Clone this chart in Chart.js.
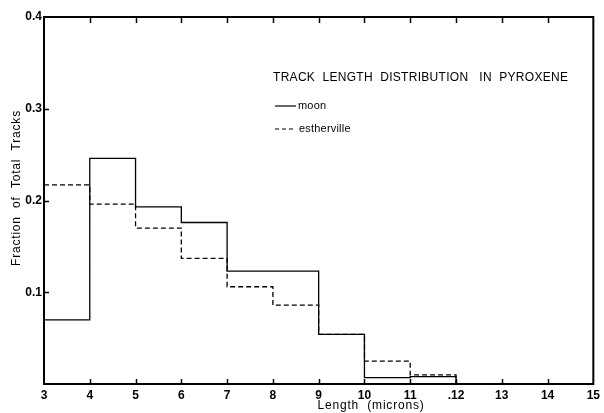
<!DOCTYPE html>
<html>
<head>
<meta charset="utf-8">
<script src="https://cdn.jsdelivr.net/npm/chart.js@4/dist/chart.umd.min.js"></script>
<style>
  html, body { margin: 0; padding: 0; background: #fff; }
  #wrap { width: 604px; height: 413px; }
</style>
</head>
<body>
<div id="wrap"><canvas id="trackChart"></canvas></div>
<script>
// left edge of each bin (microns)
const binEdges = [3, 4, 5, 6, 7, 8, 9, 10, 11];
const binEnd = 12;
// fraction of total tracks in each bin
const moon = [0.070, 0.246, 0.193, 0.176, 0.123, 0.123, 0.054, 0.007, 0.008];
const estherville = [0.217, 0.196, 0.170, 0.137, 0.106, 0.086, 0.054, 0.025, 0.010];
const xTicks = [3, 4, 5, 6, 7, 8, 9, 10, 11, 12, 13, 14, 15];
const yTicks = [0.1, 0.2, 0.3, 0.4];

const FONT = "'Liberation Sans', Arial, sans-serif";

function toSteps(values) {
  const pts = binEdges.map((x, i) => ({ x: x, y: values[i] }));
  pts.push({ x: binEnd, y: 0 });
  pts.push({ x: 15, y: 0 });
  return pts;
}

function spaced(c, px) {
  if ("letterSpacing" in c) c.letterSpacing = px + "px";
}

// frame, inward ticks, axis titles, title and legend
const decorations = {
  id: "decorations",
  afterDraw(chart) {
    const c = chart.ctx;
    const a = chart.chartArea;
    const xs = chart.scales.x;
    const ys = chart.scales.y;
    c.save();
    c.strokeStyle = "#000";
    c.lineWidth = 2;
    c.strokeRect(a.left, a.top, a.right - a.left, a.bottom - a.top);

    c.lineWidth = 1.5;
    c.beginPath();
    xTicks.slice(1, -1).forEach((v) => {
      const px = Math.round(xs.getPixelForValue(v)) + 0.5;
      c.moveTo(px, a.top);
      c.lineTo(px, a.top + 6);
      c.moveTo(px, a.bottom);
      c.lineTo(px, a.bottom - 5);
    });
    yTicks.slice(0, -1).forEach((v) => {
      const py = Math.round(ys.getPixelForValue(v)) + 0.5;
      c.moveTo(a.left, py);
      c.lineTo(a.left + 5, py);
    });
    c.stroke();

    c.fillStyle = "#000";
    c.textBaseline = "middle";

    // axis titles
    c.font = "12px " + FONT;
    spaced(c, 0.8);
    c.textAlign = "center";
    c.fillText("Length  (microns)", 371, 406);
    c.save();
    c.translate(17, 188);
    c.rotate(-Math.PI / 2);
    c.fillText("Fraction  of  Total  Tracks", 0, 0);
    c.restore();

    // title
    c.textAlign = "left";
    spaced(c, 0.3);
    c.font = "12px " + FONT;
    c.fillText("TRACK  LENGTH  DISTRIBUTION   IN  PYROXENE", 273, 78);
    spaced(c, 0.2);

    // legend
    c.font = "11px " + FONT;
    c.lineWidth = 1.2;
    c.beginPath();
    c.moveTo(275, 106);
    c.lineTo(296, 106);
    c.stroke();
    c.fillText("moon", 298, 106);
    c.setLineDash([4, 3]);
    c.beginPath();
    c.moveTo(275, 129);
    c.lineTo(296, 129);
    c.stroke();
    c.setLineDash([]);
    c.fillText("estherville", 299, 129);
    c.restore();
  },
};

new Chart(document.getElementById("trackChart"), {
  type: "line",
  data: {
    datasets: [
      {
        label: "moon",
        data: toSteps(moon),
        stepped: "before",
        borderColor: "#000",
        borderWidth: 1.3,
        pointRadius: 0,
        fill: false,
      },
      {
        label: "estherville",
        data: toSteps(estherville),
        stepped: "before",
        borderColor: "#000",
        borderWidth: 1.3,
        borderDash: [5, 3],
        pointRadius: 0,
        fill: false,
      },
    ],
  },
  options: {
    responsive: true,
    maintainAspectRatio: false,
    animation: false,
    layout: { padding: { top: 17, right: 8, left: 0, bottom: 0 } },
    plugins: {
      legend: { display: false },
      tooltip: { enabled: false },
    },
    scales: {
      x: {
        type: "linear",
        min: 3,
        max: 15,
        afterBuildTicks: (s) => { s.ticks = xTicks.map((v) => ({ value: v })); },
        afterFit: (s) => { s.height = 29; },
        grid: { display: false, drawTicks: false },
        border: { display: false },
        ticks: {
          padding: 4,
          color: "#000",
          font: { family: FONT, size: 12, weight: "bold" },
          callback: (v) => (v === 12 ? ".12" : String(v)),
          maxRotation: 0,
          autoSkip: false,
        },
      },
      y: {
        min: 0,
        max: 0.4,
        afterBuildTicks: (s) => { s.ticks = yTicks.map((v) => ({ value: v })); },
        afterFit: (s) => { s.width = 44; },
        grid: { display: false, drawTicks: false },
        border: { display: false },
        ticks: {
          padding: 2,
          color: "#000",
          font: { family: FONT, size: 12, weight: "bold" },
          callback: (v) => v.toFixed(1),
        },
      },
    },
  },
  plugins: [decorations],
});
</script>
</body>
</html>
